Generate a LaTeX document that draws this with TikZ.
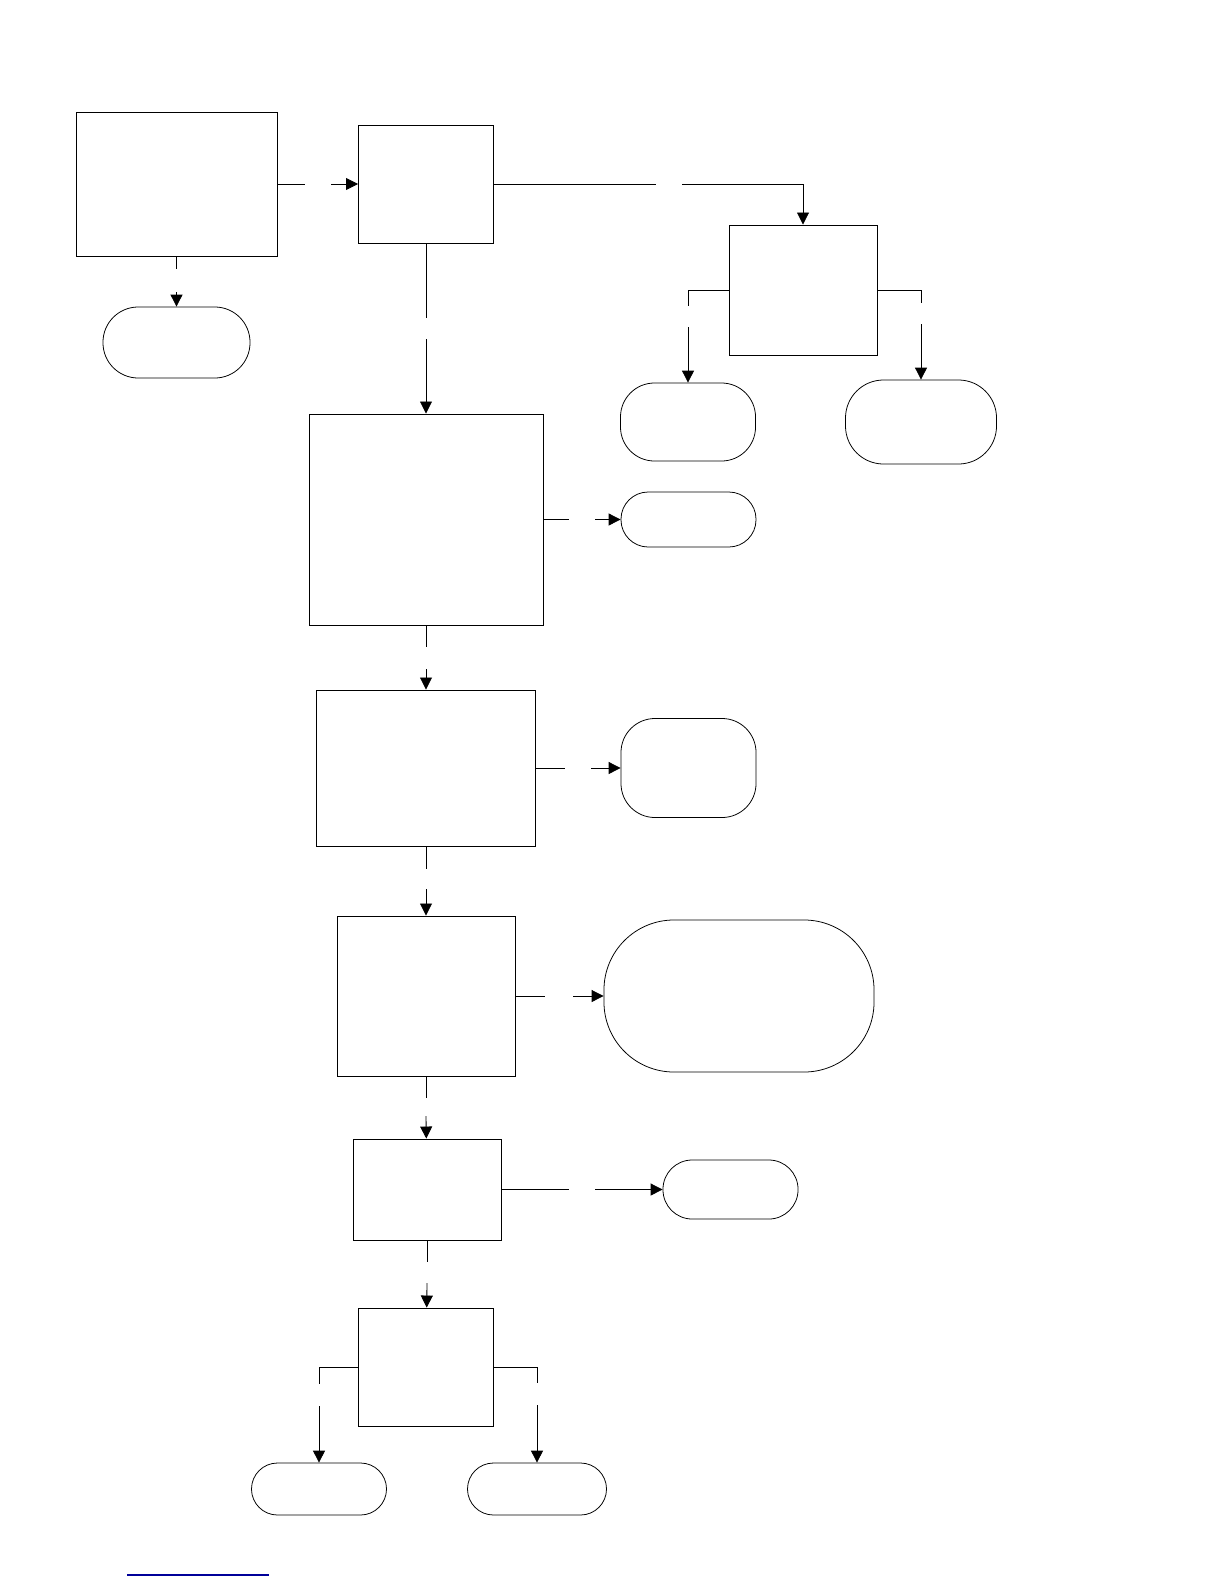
\documentclass[tikz,border=0pt]{standalone}
\usetikzlibrary{arrows.meta, positioning}

\begin{document}
\begin{tikzpicture}[x=0.025cm, y=-0.025cm,
        box/.style={draw, line width=0.65pt, inner sep=0pt},
        term/.style={draw, line width=0.55pt, inner sep=0pt, rounded corners=#1},
        link/.style={line width=0.6pt},
        arr/.style={line width=0.6pt, -{Triangle[length=3mm, width=3mm]}}]
        \useasboundingbox (0,0) rectangle (1224,1584);
        % process boxes
        \node[box, minimum width=5.025cm, minimum height=3.6cm] (intake) at (176.5,184) {};
        \node[box, minimum width=3.375cm, minimum height=2.95cm] (check) at (426,184) {};
        \node[box, minimum width=3.7cm, minimum height=3.25cm] (split) at (803,290) {};
        \node[box, minimum width=5.85cm, minimum height=5.275cm] (assess) at (426,519.5) {};
        \node[box, minimum width=5.475cm, minimum height=3.9cm] (plan) at (426,768) {};
        \node[box, minimum width=4.45cm, minimum height=4cm] (treat) at (426,996) {};
        \node[box, minimum width=3.7cm, minimum height=2.525cm] (follow) at (427,1189.5) {};
        \node[box, minimum width=3.375cm, minimum height=2.95cm] (decide) at (426,1367) {};
        % end points
        \node[term=0.88cm, minimum width=3.675cm, minimum height=1.775cm] (stopA) at (176.5,342.5) {};
        \node[term=0.85cm, minimum width=3.375cm, minimum height=1.95cm] (stopB) at (688,422) {};
        \node[term=0.95cm, minimum width=3.775cm, minimum height=2.1cm] (stopC) at (921,422) {};
        \node[term=0.68cm, minimum width=3.375cm, minimum height=1.375cm] (stopD) at (688.5,519.5) {};
        \node[term=0.85cm, minimum width=3.375cm, minimum height=2.475cm] (stopE) at (688.5,768) {};
        \node[term=1.75cm, minimum width=6.75cm, minimum height=3.8cm] (stopF) at (739,996) {};
        \node[term=0.73cm, minimum width=3.375cm, minimum height=1.475cm] (stopG) at (730.5,1189.5) {};
        \node[term=0.65cm, minimum width=3.375cm, minimum height=1.3cm] (stopH) at (319,1489) {};
        \node[term=0.65cm, minimum width=3.475cm, minimum height=1.3cm] (stopI) at (537,1489) {};
        % gap ends of the connectors
        \coordinate (g1a) at (305,184);   \coordinate (g1b) at (331,184);
        \coordinate (g2a) at (176.5,269); \coordinate (g2b) at (176.5,292);
        \coordinate (g3a) at (656,184);   \coordinate (g3b) at (682,184);
        \coordinate (g4a) at (426,318);   \coordinate (g4b) at (426,339);
        \coordinate (g5a) at (688,306);   \coordinate (g5b) at (688,327);
        \coordinate (g6a) at (921,303);   \coordinate (g6b) at (921,324);
        \coordinate (g7a) at (569,519.5); \coordinate (g7b) at (595,519.5);
        \coordinate (g8a) at (426,647);   \coordinate (g8b) at (426,669);
        \coordinate (g9a) at (565,768);   \coordinate (g9b) at (591,768);
        \coordinate (g10a) at (426,869);  \coordinate (g10b) at (426,889);
        \coordinate (g11a) at (545,996);  \coordinate (g11b) at (573,996);
        \coordinate (g12a) at (426,1098); \coordinate (g12b) at (426,1116);
        \coordinate (g13a) at (569,1189.5); \coordinate (g13b) at (595,1189.5);
        \coordinate (g14a) at (427,1262); \coordinate (g14b) at (427,1283);
        \coordinate (g15a) at (319,1384); \coordinate (g15b) at (319,1406);
        \coordinate (g16a) at (537,1383); \coordinate (g16b) at (537,1405);
        % connectors
        \draw[link] (intake) -- (g1a);  \draw[arr] (g1b) -- (check);
        \draw[link] (intake) -- (g2a);  \draw[arr] (g2b) -- (stopA);
        \draw[link] (check) -- (g3a);   \draw[arr] (g3b) -| (split);
        \draw[link] (check) -- (g4a);   \draw[arr] (g4b) -- (assess);
        \draw[link] (split.west) -| (g5a); \draw[arr] (g5b) -- (stopB);
        \draw[link] (split.east) -| (g6a); \draw[arr] (g6b) -- (stopC);
        \draw[link] (assess) -- (g7a);  \draw[arr] (g7b) -- (stopD);
        \draw[link] (assess) -- (g8a);  \draw[arr] (g8b) -- (plan);
        \draw[link] (plan) -- (g9a);    \draw[arr] (g9b) -- (stopE);
        \draw[link] (plan) -- (g10a);   \draw[arr] (g10b) -- (treat);
        \draw[link] (treat) -- (g11a);  \draw[arr] (g11b) -- (stopF);
        \draw[link] (treat) -- (g12a);  \draw[arr] (g12b) -- (follow);
        \draw[link] (follow) -- (g13a); \draw[arr] (g13b) -- (stopG);
        \draw[link] (follow) -- (g14a); \draw[arr] (g14b) -- (decide);
        \draw[link] (decide.west) -| (g15a); \draw[arr] (g15b) -- (stopH);
        \draw[link] (decide.east) -| (g16a); \draw[arr] (g16b) -- (stopI);
        % underline at the foot of the page
        \draw[line width=0.8pt, blue!60!black] (127,1575) -- (269,1575);
\end{tikzpicture}
\end{document}
